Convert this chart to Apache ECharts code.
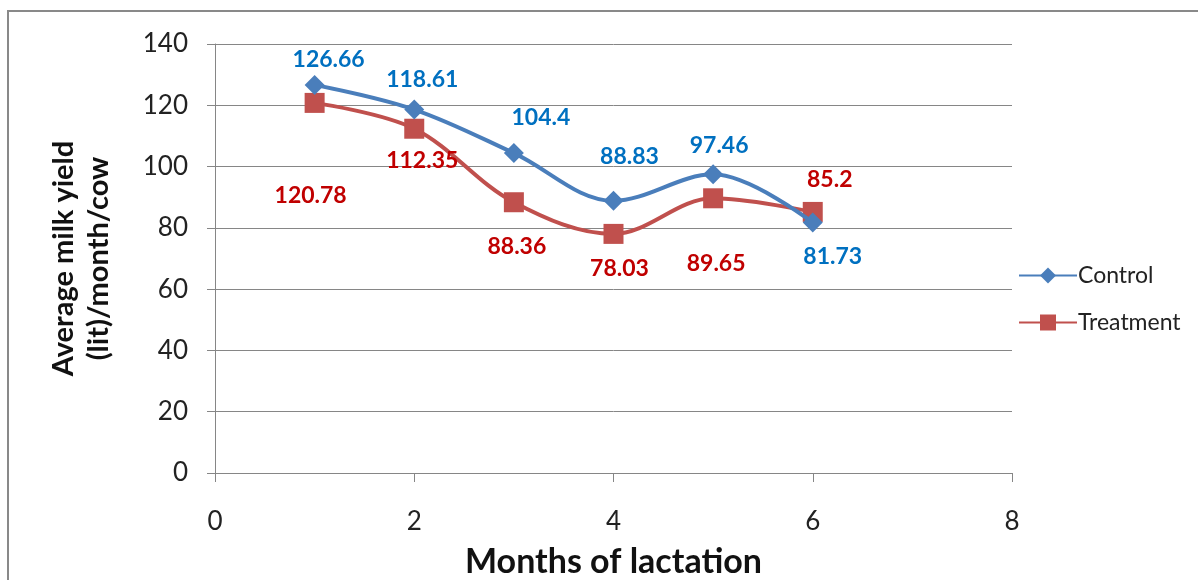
<!DOCTYPE html>
<html><head><meta charset="utf-8">
<script src="https://cdn.jsdelivr.net/npm/echarts@6/dist/echarts.min.js"></script>
<style>html,body{margin:0;padding:0;background:#fff}#c{width:1198px;height:580px}</style>
</head><body><div id="c"></div>
<script>
const months = [1, 2, 3, 4, 5, 6];
const control = [126.66, 118.61, 104.4, 88.83, 97.46, 81.73];
const treatment = [120.78, 112.35, 88.36, 78.03, 89.65, 85.2];
const controlLabelOffsets = [[14,-25],[8,-30],[27,-36],[16,-44],[6,-29],[20,34]];
const treatmentLabelOffsets = [[-4,93],[8,32],[3,44],[6,35],[3,65],[17,-32]];

const FONT = 'Lato, "Open Sans", sans-serif';
function mk(vals, offs) {
  return vals.map((v, i) => ({
    value: [months[i], v],
    label: { offset: offs[i] }
  }));
}
const chart = echarts.init(document.getElementById('c'));
chart.setOption({
  animation: false,
  textStyle: { fontFamily: FONT },
  grid: { left: 215, right: 186, top: 44, bottom: 107, containLabel: false, outerBoundsMode: 'none' },
  graphic: [{
    type: 'rect', shape: { x: 8, y: 11, width: 1300, height: 700 },
    style: { fill: 'none', stroke: '#898989', lineWidth: 2 }, silent: true
  }],
  legend: {
    orient: 'vertical', left: 1013, top: 259, itemGap: 24,
    itemWidth: 58, itemHeight: 20,
    textStyle: { fontSize: 23, color: '#222', fontFamily: FONT, padding: [0,0,0,-4] },
    data: ['Control', 'Treatment']
  },
  xAxis: {
    type: 'value', min: 0, max: 8, interval: 2,
    name: 'Months of lactation', nameLocation: 'middle', nameGap: 72,
    nameTextStyle: { fontSize: 34, fontWeight: 'bold', color: '#111', fontFamily: FONT },
    axisLine: { lineStyle: { color: '#868686', width: 1 } },
    axisTick: { show: true, length: 9, inside: false, lineStyle: { color: '#868686' } },
    axisLabel: { fontSize: 26, color: '#222', margin: 36 },
    splitLine: { show: false }
  },
  yAxis: {
    type: 'value', min: 0, max: 140, interval: 20,
    name: 'Average milk yield\n(lit)/month/cow', nameLocation: 'middle', nameGap: 99, nameRotate: 90,
    nameTextStyle: { fontSize: 29, fontWeight: 'bold', color: '#111', fontFamily: FONT, lineHeight: 35 },
    axisLine: { show: true, lineStyle: { color: '#868686', width: 1 } },
    axisTick: { show: true, length: 8, lineStyle: { color: '#868686' } },
    axisLabel: { fontSize: 26, color: '#222', margin: 27 },
    splitLine: { show: true, lineStyle: { color: '#868686', width: 1 } }
  },
  series: [{
    name: 'Control', type: 'line', smooth: 0.35,
    data: mk(control, controlLabelOffsets),
    symbol: 'diamond', symbolSize: 20,
    lineStyle: { color: '#4A7EBB', width: 4 },
    itemStyle: { color: '#4A7EBB' },
    label: { show: true, position: 'inside', fontSize: 23, fontWeight: 'bold', color: '#0070C0',
      formatter: p => p.value[1] },
    z: 3
  }, {
    name: 'Treatment', type: 'line', smooth: 0.35,
    data: mk(treatment, treatmentLabelOffsets),
    symbol: 'rect', symbolSize: 20,
    lineStyle: { color: '#C0504D', width: 4 },
    itemStyle: { color: '#C0504D' },
    label: { show: true, position: 'inside', fontSize: 23, fontWeight: 'bold', color: '#C00000',
      formatter: p => p.value[1] },
    z: 2
  }]
});
</script></body></html>
